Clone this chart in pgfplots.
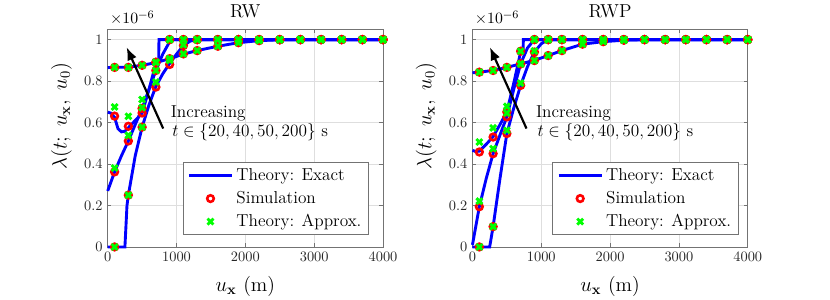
\documentclass[border=0pt]{standalone}
\usepackage{pgfplots}
\pgfplotsset{compat=1.18}
\usetikzlibrary{arrows.meta}
\definecolor{gridc}{gray}{0.87}
\definecolor{axc}{gray}{0.45}
\tikzset{anno/.style={anchor=north west, inner sep=0pt, align=left, font=\fontsize{12}{13.6}\selectfont}}
\begin{document}
\begin{tikzpicture}
\useasboundingbox (0,0) rectangle (576.4pt,208.3pt);
\pgfplotsset{
  lamaxis/.style={
    scale only axis, width=191.2pt, height=151.2pt,
    anchor=south west,
    xmin=0, xmax=4000, ymin=0, ymax=1.05,
    xtick={0,1000,2000,3000,4000},
    xticklabels={0,1000,2000,3000,4000},
    ytick={0,0.2,0.4,0.6,0.8,1},
    yticklabels={0,0.2,0.4,0.6,0.8,1},
    grid=major, major grid style={gridc, line width=0.5pt},
    axis line style={axc, line width=0.6pt},
    tick style={axc, line width=0.6pt},
    major tick length=2.5pt, tick align=inside,
    ticklabel style={font=\fontsize{10}{12}\selectfont, text=black!85},
    clip=false,
    legend cell align=left,
    legend style={font=\fontsize{12}{14}\selectfont, draw=axc, line width=0.5pt,
      anchor=south east, row sep=2pt, inner xsep=3pt, inner ysep=2pt},
  },
  exact/.style={blue, line width=2pt, forget plot},
  sim/.style={only marks, mark=o, red, mark size=2.3pt, line width=1.8pt, forget plot},
  appr/.style={only marks, mark=x, green, mark size=2.9pt, line width=2pt, forget plot},
  lineleg/.style={legend image code/.code={\draw[##1] (0pt,0pt) -- (30pt,0pt);}},
  markleg/.style={legend image code/.code={\draw[##1] plot coordinates {(15pt,0pt)};}},
}
% ================= RW =================
\begin{axis}[lamaxis, at={(74.8pt,36.8pt)}, legend style={at={(0.949,0.055)}}]
% exact theory
\addplot[exact] coordinates {(0,0.865)(100,0.866)(300,0.867)(500,0.876)(700,0.889)(900,0.908)(1100,0.93)(1300,0.947)(1600,0.968)(1900,0.985)(2200,0.995)(2500,0.999)(2800,1)(4000,1)};
\addplot[exact] coordinates {(0,0.65)(50,0.645)(100,0.625)(150,0.57)(200,0.555)(250,0.558)(300,0.575)(400,0.61)(500,0.645)(600,0.76)(700,0.885)(740,0.895)(745,1)(4000,1)};
\addplot[exact] coordinates {(0,0.27)(100,0.362)(200,0.44)(300,0.511)(400,0.59)(500,0.668)(600,0.76)(700,0.851)(800,0.93)(900,0.99)(950,1)(4000,1)};
\addplot[exact] coordinates {(0,0)(250,0)(280,0.2)(300,0.25)(400,0.44)(500,0.578)(600,0.685)(700,0.775)(800,0.835)(900,0.885)(1000,0.93)(1100,0.971)(1200,0.993)(1300,1)(4000,1)};
% simulation
\addplot[sim] coordinates {(100,0.866)(300,0.866)(500,0.876)(700,0.890)(900,0.908)(1100,0.931)(1300,0.947)(1600,0.968)(1900,0.985)(2200,0.995)(2500,0.999)(2800,1)(3100,1)(3400,1)(3700,1)(4000,1)};
\addplot[sim] coordinates {(100,0.631)(300,0.582)(500,0.646)(700,0.891)(900,1)(1100,1)(1300,1)(1600,1)(1900,1)(2200,1)(2500,1)(2800,1)(3100,1)(3400,1)(3700,1)(4000,1)};
\addplot[sim] coordinates {(100,0.362)(300,0.511)(500,0.668)(700,0.851)(900,1)(1100,1)(1300,1)(1600,1)(1900,1)(2200,1)(2500,1)(2800,1)(3100,1)(3400,1)(3700,1)(4000,1)};
\addplot[sim] coordinates {(100,0)(300,0.25)(500,0.578)(700,0.771)(900,0.88)(1100,0.971)(1300,1)(1600,1)(1900,1)(2200,1)(2500,1)(2800,1)(3100,1)(3400,1)(3700,1)(4000,1)};
% approximate theory
\addplot[appr] coordinates {(100,0.866)(300,0.866)(500,0.876)(700,0.890)(900,0.908)(1100,0.931)(1300,0.947)(1600,0.968)(1900,0.985)(2200,0.995)(2500,0.999)(2800,1)(3100,1)(3400,1)(3700,1)(4000,1)};
\addplot[appr] coordinates {(100,0.675)(300,0.630)(500,0.711)(700,0.891)(900,1)(1100,1)(1300,1)(1600,1)(1900,1)(2200,1)(2500,1)(2800,1)(3100,1)(3400,1)(3700,1)(4000,1)};
\addplot[appr] coordinates {(100,0.381)(300,0.538)(500,0.672)(700,0.851)(900,1)(1100,1)(1300,1)(1600,1)(1900,1)(2200,1)(2500,1)(2800,1)(3100,1)(3400,1)(3700,1)(4000,1)};
\addplot[appr] coordinates {(100,0)(300,0.25)(500,0.578)(700,0.795)(900,0.9)(1100,0.975)(1300,1)(1600,1)(1900,1)(2200,1)(2500,1)(2800,1)(3100,1)(3400,1)(3700,1)(4000,1)};
\addlegendimage{blue, line width=2pt, lineleg}
\addlegendentry{Theory: Exact}
\addlegendimage{only marks, mark=o, red, mark size=2.3pt, line width=1.8pt, markleg}
\addlegendentry{Simulation}
\addlegendimage{only marks, mark=x, green, mark size=2.9pt, line width=2pt, markleg}
\addlegendentry{Theory: Approx.}
\draw[-{Latex[length=9pt,width=7pt]}, line width=1.5pt, black] (axis cs:806,0.571) -- (axis cs:275,0.963);
\node[anno] at (axis cs:913,0.685) {Increasing\\\hspace{1pt}$t\in\{20, 40, 50, 200\}$ s};
\node[anchor=base, font=\fontsize{13}{15}\selectfont, yshift=7.8pt] at (rel axis cs:0.5,1) {RW};
\node[anchor=base west, inner sep=0pt, xshift=1.5pt, yshift=3.7pt, font=\fontsize{11}{13}\selectfont] at (rel axis cs:0,1) {$\times 10^{-6}$};
\path (rel axis cs:0,0.6) ++(-28.5pt,0pt) node[rotate=90, anchor=base, font=\fontsize{14}{16}\selectfont] {$\lambda(t;\ u_{\mathbf{x}},\ u_0)$};
\path (rel axis cs:0.5,0) ++(0pt,-31pt) node[anchor=base, font=\fontsize{14}{16}\selectfont] {$u_{\mathbf{x}}$ (m)};
\end{axis}
% ================= RWP =================
\begin{axis}[lamaxis, at={(328.1pt,36.8pt)}, legend style={at={(0.967,0.055)}}]
% exact theory
\addplot[exact] coordinates {(0,0.84)(100,0.843)(300,0.851)(500,0.866)(700,0.883)(900,0.9)(1100,0.923)(1300,0.947)(1600,0.978)(1900,0.99)(2200,0.997)(2500,1)(4000,1)};
\addplot[exact] coordinates {(0,0.466)(50,0.46)(100,0.462)(200,0.495)(300,0.532)(400,0.59)(500,0.652)(600,0.79)(700,0.94)(735,0.95)(740,1)(4000,1)};
\addplot[exact] coordinates {(0,0.01)(100,0.194)(200,0.33)(300,0.45)(400,0.54)(500,0.628)(600,0.76)(700,0.883)(800,0.96)(900,1)(4000,1)};
\addplot[exact] coordinates {(0,0)(250,0)(300,0.098)(400,0.33)(500,0.547)(600,0.67)(700,0.779)(800,0.87)(900,0.94)(1000,0.98)(1100,1)(4000,1)};
% simulation
\addplot[sim] coordinates {(100,0.843)(300,0.851)(500,0.866)(700,0.883)(900,0.899)(1100,0.923)(1300,0.947)(1600,0.978)(1900,0.99)(2200,0.997)(2500,1)(2800,1)(3100,1)(3400,1)(3700,1)(4000,1)};
\addplot[sim] coordinates {(100,0.458)(300,0.530)(500,0.651)(700,0.944)(900,1)(1100,1)(1300,1)(1600,1)(1900,1)(2200,1)(2500,1)(2800,1)(3100,1)(3400,1)(3700,1)(4000,1)};
\addplot[sim] coordinates {(100,0.194)(300,0.450)(500,0.627)(700,0.883)(900,1)(1100,1)(1300,1)(1600,1)(1900,1)(2200,1)(2500,1)(2800,1)(3100,1)(3400,1)(3700,1)(4000,1)};
\addplot[sim] coordinates {(100,0)(300,0.098)(500,0.547)(700,0.779)(900,0.94)(1100,1)(1300,1)(1600,1)(1900,1)(2200,1)(2500,1)(2800,1)(3100,1)(3400,1)(3700,1)(4000,1)};
% approximate theory
\addplot[appr] coordinates {(100,0.843)(300,0.851)(500,0.866)(700,0.883)(900,0.899)(1100,0.923)(1300,0.947)(1600,0.978)(1900,0.99)(2200,0.997)(2500,1)(2800,1)(3100,1)(3400,1)(3700,1)(4000,1)};
\addplot[appr] coordinates {(100,0.506)(300,0.574)(500,0.678)(700,0.944)(900,1)(1100,1)(1300,1)(1600,1)(1900,1)(2200,1)(2500,1)(2800,1)(3100,1)(3400,1)(3700,1)(4000,1)};
\addplot[appr] coordinates {(100,0.221)(300,0.474)(500,0.646)(700,0.883)(900,1)(1100,1)(1300,1)(1600,1)(1900,1)(2200,1)(2500,1)(2800,1)(3100,1)(3400,1)(3700,1)(4000,1)};
\addplot[appr] coordinates {(100,0)(300,0.098)(500,0.5625)(700,0.79)(900,0.945)(1100,1)(1300,1)(1600,1)(1900,1)(2200,1)(2500,1)(2800,1)(3100,1)(3400,1)(3700,1)(4000,1)};
\addlegendimage{blue, line width=2pt, lineleg}
\addlegendentry{Theory: Exact}
\addlegendimage{only marks, mark=o, red, mark size=2.3pt, line width=1.8pt, markleg}
\addlegendentry{Simulation}
\addlegendimage{only marks, mark=x, green, mark size=2.9pt, line width=2pt, markleg}
\addlegendentry{Theory: Approx.}
\draw[-{Latex[length=9pt,width=7pt]}, line width=1.5pt, black] (axis cs:785,0.571) -- (axis cs:254,0.963);
\node[anno] at (axis cs:920,0.685) {Increasing\\\hspace{1pt}$t\in\{20, 40, 50, 200\}$ s};
\node[anchor=base, font=\fontsize{13}{15}\selectfont, yshift=7.8pt] at (rel axis cs:0.5,1) {RWP};
\node[anchor=base west, inner sep=0pt, xshift=1.5pt, yshift=3.7pt, font=\fontsize{11}{13}\selectfont] at (rel axis cs:0,1) {$\times 10^{-6}$};
\path (rel axis cs:0,0.6) ++(-28.5pt,0pt) node[rotate=90, anchor=base, font=\fontsize{14}{16}\selectfont] {$\lambda(t;\ u_{\mathbf{x}},\ u_0)$};
\path (rel axis cs:0.5,0) ++(0pt,-31pt) node[anchor=base, font=\fontsize{14}{16}\selectfont] {$u_{\mathbf{x}}$ (m)};
\end{axis}
\end{tikzpicture}
\end{document}
